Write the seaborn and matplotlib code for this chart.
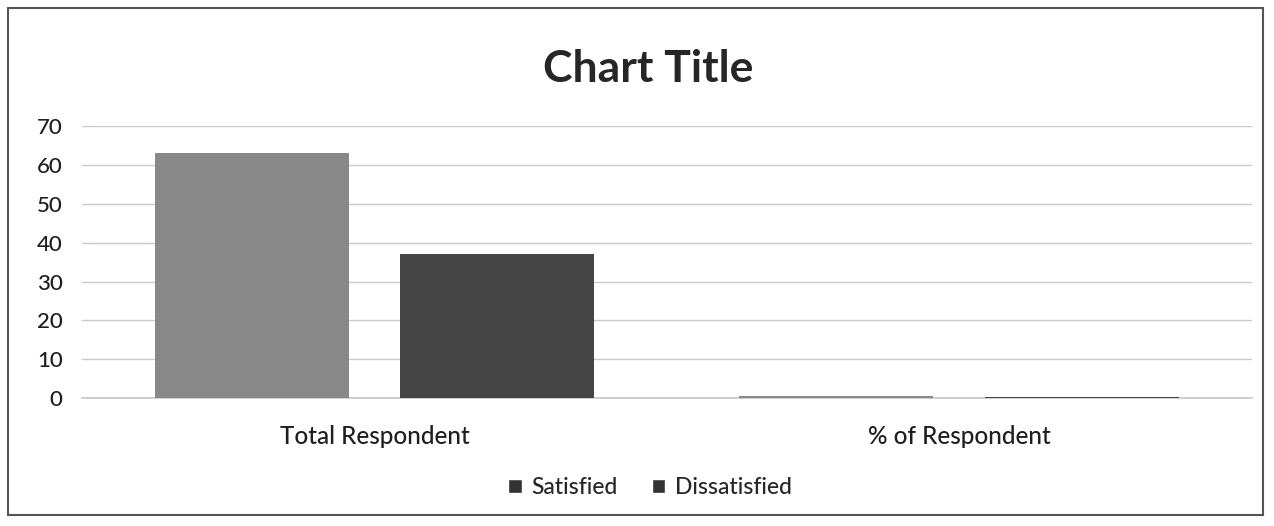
import matplotlib
matplotlib.use("Agg")
import matplotlib.pyplot as plt
import seaborn as sns
import pandas as pd
from matplotlib.patches import Rectangle, Patch

categories = ["Total Respondent", "% of Respondent"]
series = ["Satisfied", "Dissatisfied"]
satisfied = [63, 0.63]
dissatisfied = [37, 0.37]
yticks = [0, 10, 20, 30, 40, 50, 60, 70]

df = pd.DataFrame({
    "category": categories * 2,
    "series": [series[0]] * 2 + [series[1]] * 2,
    "value": satisfied + dissatisfied,
})

sns.set_theme(style="white")
plt.rcParams["font.family"] = ["Lato", "DejaVu Sans"]

colors = {"Satisfied": "#888888", "Dissatisfied": "#454545"}

fig = plt.figure(figsize=(12.74, 5.26), dpi=100)
ax = fig.add_axes([0.0644, 0.243, 0.918, 0.517])
sns.barplot(data=df, x="category", y="value", hue="series", palette=colors,
            width=0.84, gap=0.21, ax=ax, legend=False, saturation=1,
            linewidth=0, zorder=3)

ax.set_ylim(0, 70)
ax.set_yticks(yticks)
ax.set_yticklabels([str(t) for t in yticks], fontsize=16, color="#1e1e1e",
                   fontweight="medium")
ax.tick_params(axis="x", labelsize=17.5, colors="#1e1e1e", pad=19, length=0)
for lbl in ax.get_xticklabels():
    lbl.set_fontweight("medium")
ax.tick_params(axis="y", length=0, pad=14)
ax.set_xlabel("")
ax.set_ylabel("")
ax.grid(axis="y", color="#c8c8d0", linewidth=1, zorder=0.5)
ax.set_axisbelow(True)
for s in ["top", "right", "left"]:
    ax.spines[s].set_visible(False)
ax.spines["bottom"].set_color("#c8c8d0")
ax.spines["bottom"].set_zorder(1)

fig.text(0.509, 0.868, "Chart Title", ha="center", va="center",
         fontsize=32, fontweight="bold", color="#262626")

handles = [Patch(facecolor="#333333", label=s) for s in series]
fig.legend(handles=handles, loc="center", bbox_to_anchor=(0.51, 0.073), ncol=2,
           frameon=False, handlelength=0.6, handleheight=0.6,
           handletextpad=0.4, columnspacing=1.5,
           prop={"size": 16.5, "weight": "medium"})

fig.patches.append(Rectangle((0.006, 0.02), 0.985, 0.965, transform=fig.transFigure,
                             fill=False, edgecolor="#555555", linewidth=1.5))

fig.savefig("out.png", dpi=100)
